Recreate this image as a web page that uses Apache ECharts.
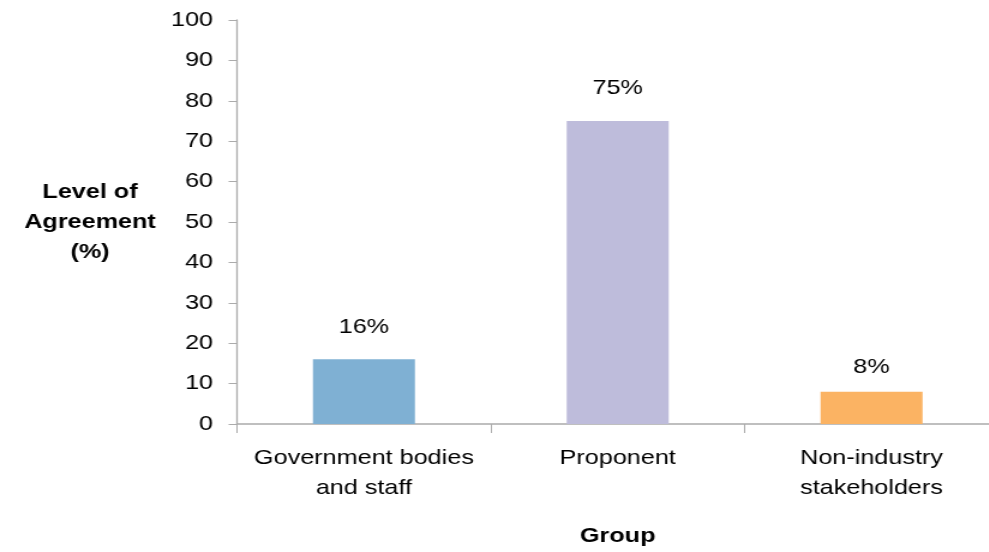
<!DOCTYPE html>
<html>
<head>
<meta charset="utf-8">
<script src="https://cdn.jsdelivr.net/npm/echarts@6/dist/echarts.min.js"></script>
<style>
  html, body { margin: 0; padding: 0; background: #fff; overflow: hidden; }
  /* a imagem original está esticada na horizontal (~1.2x) */
  #chart { width: 832px; height: 552px; transform: scaleX(1.2); transform-origin: 0 0; }
</style>
</head>
<body>
<div id="chart"></div>
<script>
// Nível de concordância por grupo
const categories = ['Government bodies\nand staff', 'Proponent', 'Non-industry\nstakeholders'];
const values = [16, 75, 8];
const barColors = ['#7FB0D3', '#BEBCDB', '#FBB363'];
const yTicks = [0, 100, 10]; // min, max, interval

var chartDom = document.getElementById('chart');
var myChart = echarts.init(chartDom);

const font = '"Liberation Sans", Arial, sans-serif';

const option = {
  animation: false,
  backgroundColor: '#fff',
  grid: {
    left: 197.5,
    right: 0,
    top: 20,
    bottom: 126
  },
  xAxis: {
    type: 'category',
    data: categories,
    name: 'Group',
    nameLocation: 'middle',
    nameGap: 102,
    nameTextStyle: {
      fontFamily: font,
      fontSize: 21,
      fontWeight: 'bold',
      color: '#000'
    },
    axisLine: { lineStyle: { color: '#ababab', width: 1.5 } },
    axisTick: { show: true, length: 9, lineStyle: { color: '#ababab' } },
    axisLabel: {
      fontFamily: font,
      fontSize: 21,
      color: '#000',
      lineHeight: 30,
      margin: 19,
      interval: 0
    }
  },
  yAxis: {
    type: 'value',
    min: yTicks[0],
    max: yTicks[1],
    interval: yTicks[2],
    name: 'Level of\nAgreement\n(%)',
    nameLocation: 'middle',
    nameRotate: 0,
    nameGap: 122.5,
    nameTextStyle: {
      fontFamily: font,
      fontSize: 21,
      fontWeight: 'bold',
      color: '#000',
      align: 'center',
      lineHeight: 30,
      padding: [0, 0, 12, 0]
    },
    splitLine: { show: false },
    axisLine: { show: true, lineStyle: { color: '#ababab', width: 1.3 } },
    axisTick: { show: true, length: 7, lineStyle: { color: '#ababab' } },
    axisLabel: {
      fontFamily: font,
      fontSize: 21,
      color: '#000',
      margin: 20
    }
  },
  series: [
    {
      type: 'bar',
      barWidth: 85,
      data: values.map((v, i) => ({
        value: v,
        itemStyle: { color: barColors[i] },
        label: i === 2 ? { distance: 14 } : undefined
      })),
      label: {
        show: true,
        position: 'top',
        distance: 22,
        formatter: '{c}%',
        fontFamily: font,
        fontSize: 21,
        color: '#000'
      }
    }
  ]
};

option && myChart.setOption(option);
</script>
</body>
</html>
